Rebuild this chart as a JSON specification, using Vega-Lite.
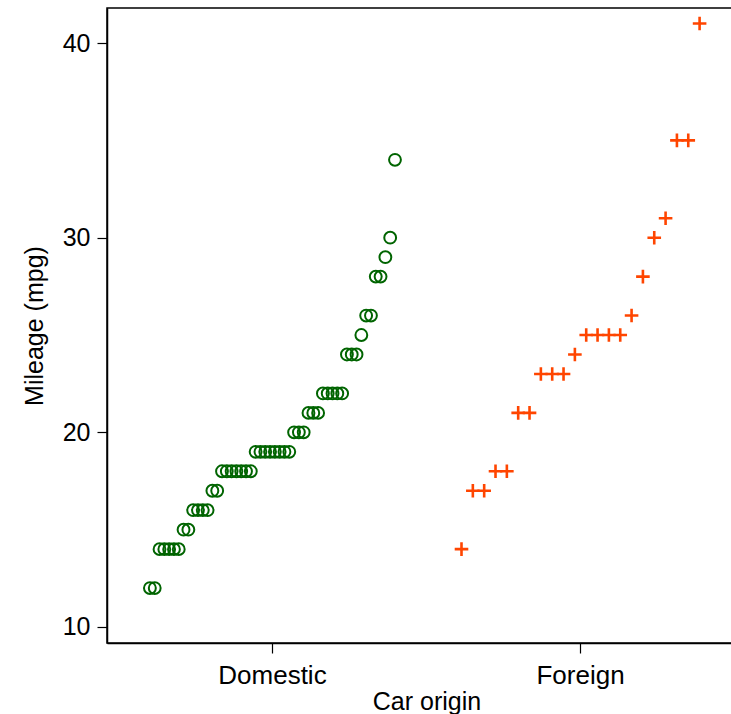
{
  "$schema": "https://vega.github.io/schema/vega-lite/v6.json",
  "width": 639,
  "height": 635,
  "autosize": {"type": "none"},
  "padding": {"left": 107, "top": 8, "right": 0, "bottom": 71},
  "background": "white",
  "config": {
    "font": "Liberation Sans",
    "view": {"stroke": "black", "strokeWidth": 1.5},
    "axis": {
      "labelFont": "Liberation Sans",
      "titleFont": "Liberation Sans",
      "labelFontSize": 25,
      "titleFontSize": 25,
      "labelColor": "black",
      "titleColor": "black",
      "titleFontWeight": "normal",
      "domainColor": "black",
      "tickColor": "black",
      "domainWidth": 1.5,
      "tickWidth": 1.2,
      "tickSize": 10,
      "grid": false
    }
  },
  "datasets": {
    "auto": [
      {"car": "Linc. Continental", "origin": "Domestic", "mpg": 12},
      {"car": "Linc. Mark V", "origin": "Domestic", "mpg": 12},
      {"car": "Cad. Deville", "origin": "Domestic", "mpg": 14},
      {"car": "Cad. Eldorado", "origin": "Domestic", "mpg": 14},
      {"car": "Linc. Versailles", "origin": "Domestic", "mpg": 14},
      {"car": "Merc. Cougar", "origin": "Domestic", "mpg": 14},
      {"car": "Merc. XR-7", "origin": "Domestic", "mpg": 14},
      {"car": "Buick Electra", "origin": "Domestic", "mpg": 15},
      {"car": "Merc. Marquis", "origin": "Domestic", "mpg": 15},
      {"car": "Buick Riviera", "origin": "Domestic", "mpg": 16},
      {"car": "Chev. Impala", "origin": "Domestic", "mpg": 16},
      {"car": "Dodge Magnum", "origin": "Domestic", "mpg": 16},
      {"car": "Olds Toronado", "origin": "Domestic", "mpg": 16},
      {"car": "AMC Pacer", "origin": "Domestic", "mpg": 17},
      {"car": "Dodge St. Regis", "origin": "Domestic", "mpg": 17},
      {"car": "Buick LeSabre", "origin": "Domestic", "mpg": 18},
      {"car": "Dodge Diplomat", "origin": "Domestic", "mpg": 18},
      {"car": "Merc. Monarch", "origin": "Domestic", "mpg": 18},
      {"car": "Olds Delta 88", "origin": "Domestic", "mpg": 18},
      {"car": "Plym. Volare", "origin": "Domestic", "mpg": 18},
      {"car": "Pont. Catalina", "origin": "Domestic", "mpg": 18},
      {"car": "Pont. Firebird", "origin": "Domestic", "mpg": 18},
      {"car": "Buick Skylark", "origin": "Domestic", "mpg": 19},
      {"car": "Chev. Nova", "origin": "Domestic", "mpg": 19},
      {"car": "Olds Cutl Supr", "origin": "Domestic", "mpg": 19},
      {"car": "Olds Cutlass", "origin": "Domestic", "mpg": 19},
      {"car": "Olds Omega", "origin": "Domestic", "mpg": 19},
      {"car": "Pont. Grand Prix", "origin": "Domestic", "mpg": 19},
      {"car": "Pont. Le Mans", "origin": "Domestic", "mpg": 19},
      {"car": "Pont. Phoenix", "origin": "Domestic", "mpg": 19},
      {"car": "Buick Century", "origin": "Domestic", "mpg": 20},
      {"car": "Buick Regal", "origin": "Domestic", "mpg": 20},
      {"car": "Merc. Zephyr", "origin": "Domestic", "mpg": 20},
      {"car": "Cad. Seville", "origin": "Domestic", "mpg": 21},
      {"car": "Ford Mustang", "origin": "Domestic", "mpg": 21},
      {"car": "Olds 98", "origin": "Domestic", "mpg": 21},
      {"car": "AMC Concord", "origin": "Domestic", "mpg": 22},
      {"car": "AMC Spirit", "origin": "Domestic", "mpg": 22},
      {"car": "Chev. Malibu", "origin": "Domestic", "mpg": 22},
      {"car": "Chev. Monte Carlo", "origin": "Domestic", "mpg": 22},
      {"car": "Merc. Bobcat", "origin": "Domestic", "mpg": 22},
      {"car": "Chev. Monza", "origin": "Domestic", "mpg": 24},
      {"car": "Olds Starfire", "origin": "Domestic", "mpg": 24},
      {"car": "Pont. Sunbird", "origin": "Domestic", "mpg": 24},
      {"car": "Plym. Horizon", "origin": "Domestic", "mpg": 25},
      {"car": "Buick Opel", "origin": "Domestic", "mpg": 26},
      {"car": "Plym. Sapporo", "origin": "Domestic", "mpg": 26},
      {"car": "Ford Fiesta", "origin": "Domestic", "mpg": 28},
      {"car": "Plym. Arrow", "origin": "Domestic", "mpg": 28},
      {"car": "Chev. Chevette", "origin": "Domestic", "mpg": 29},
      {"car": "Dodge Colt", "origin": "Domestic", "mpg": 30},
      {"car": "Plym. Champ", "origin": "Domestic", "mpg": 34},
      {"car": "Peugeot 604", "origin": "Foreign", "mpg": 14},
      {"car": "Audi 5000", "origin": "Foreign", "mpg": 17},
      {"car": "Volvo 260", "origin": "Foreign", "mpg": 17},
      {"car": "Toyota Celica", "origin": "Foreign", "mpg": 18},
      {"car": "Foreign 5", "origin": "Foreign", "mpg": 18},
      {"car": "Datsun 810", "origin": "Foreign", "mpg": 21},
      {"car": "Foreign 7", "origin": "Foreign", "mpg": 21},
      {"car": "Audi Fox", "origin": "Foreign", "mpg": 23},
      {"car": "Datsun 200", "origin": "Foreign", "mpg": 23},
      {"car": "VW Dasher", "origin": "Foreign", "mpg": 23},
      {"car": "Datsun 510", "origin": "Foreign", "mpg": 24},
      {"car": "BMW 320i", "origin": "Foreign", "mpg": 25},
      {"car": "Honda Accord", "origin": "Foreign", "mpg": 25},
      {"car": "Toyota Corona", "origin": "Foreign", "mpg": 25},
      {"car": "VW Rabbit", "origin": "Foreign", "mpg": 25},
      {"car": "Renault Le Car", "origin": "Foreign", "mpg": 26},
      {"car": "Honda Civic", "origin": "Foreign", "mpg": 28},
      {"car": "Fiat Strada", "origin": "Foreign", "mpg": 30},
      {"car": "Toyota Corolla", "origin": "Foreign", "mpg": 31},
      {"car": "Datsun 210", "origin": "Foreign", "mpg": 35},
      {"car": "Subaru", "origin": "Foreign", "mpg": 35},
      {"car": "VW Diesel", "origin": "Foreign", "mpg": 41}
    ]
  },
  "data": {"name": "auto"},
  "transform": [
    {"window": [{"op": "percent_rank", "as": "prank"}], "groupby": ["origin"], "sort": [{"field": "mpg"}, {"field": "car"}]}
  ],
  "encoding": {
    "x": {
      "field": "origin",
      "type": "nominal",
      "scale": {"domain": ["Domestic", "Foreign"], "paddingInner": 0, "paddingOuter": 0.037},
      "axis": {"title": "Car origin", "labelAngle": 0, "labelPadding": 9, "labelFontSize": 26, "titlePadding": 1, "domain": true, "ticks": true}
    },
    "y": {
      "field": "mpg",
      "type": "quantitative",
      "scale": {"domain": [9.178, 41.8], "nice": false, "zero": false},
      "axis": {"title": "Mileage (mpg)", "values": [10, 20, 30, 40], "labelPadding": 7, "titlePadding": 15}
    }
  },
  "layer": [
    {
      "transform": [{"filter": "datum.origin === 'Domestic'"}],
      "mark": {"type": "point", "shape": "circle", "filled": false, "stroke": "#006400", "strokeWidth": 2, "size": 140, "opacity": 1},
      "encoding": {
        "xOffset": {"field": "prank", "type": "quantitative", "scale": {"domain": [-0.1286, 1.1286]}}
      }
    },
    {
      "transform": [{"filter": "datum.origin === 'Foreign'"}],
      "mark": {"type": "point", "shape": "M-1,0H1M0,-1V1", "filled": false, "stroke": "#ff4500", "strokeWidth": 2.6, "size": 185, "opacity": 1},
      "encoding": {
        "xOffset": {"field": "prank", "type": "quantitative", "scale": {"domain": [-0.147, 1.147]}}
      }
    }
  ],
  "resolve": {"scale": {"xOffset": "independent"}}
}
